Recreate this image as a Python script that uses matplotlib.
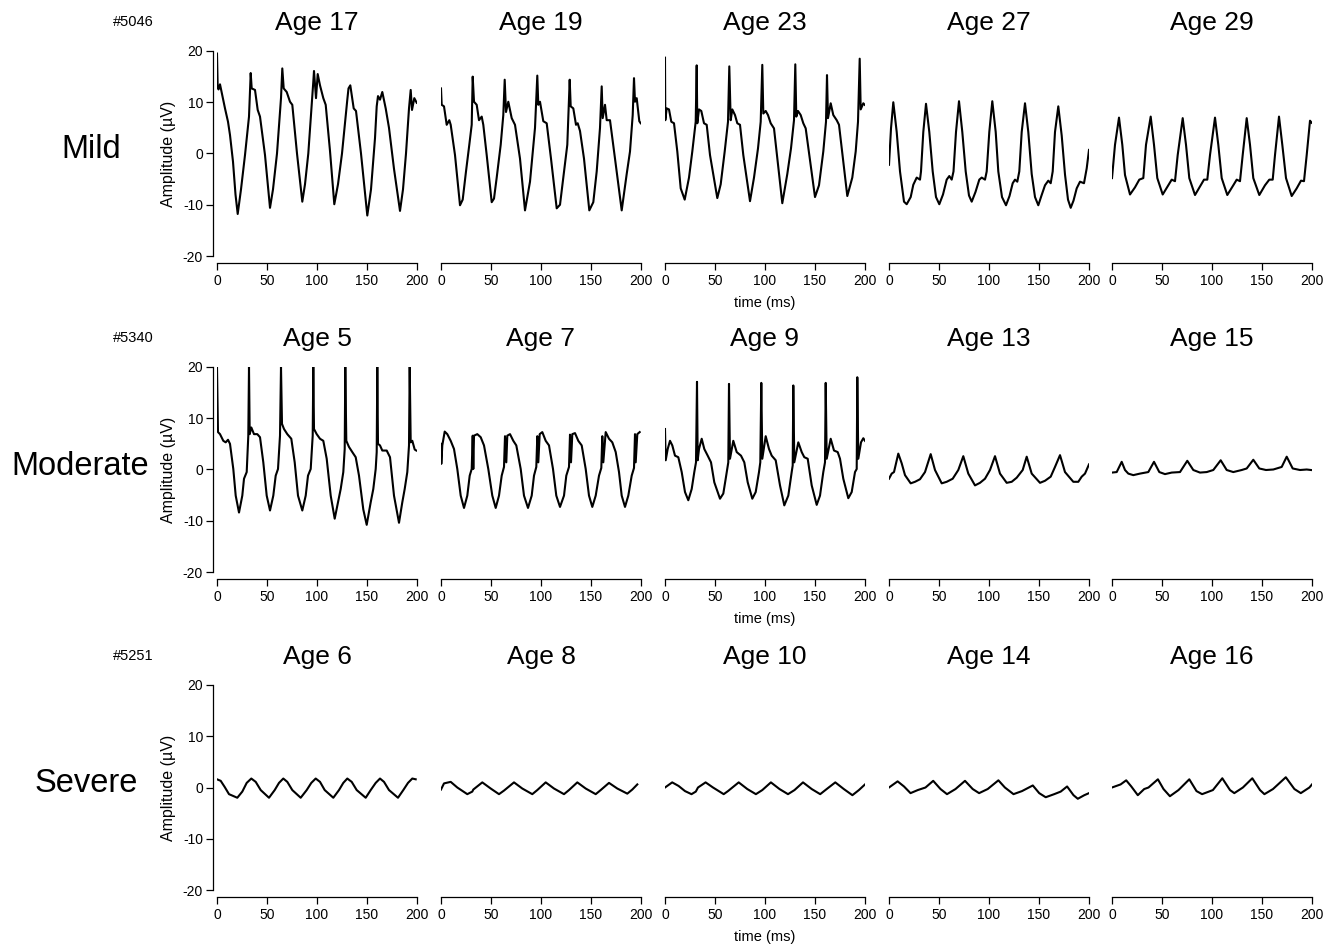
import matplotlib
matplotlib.use("Agg")
import matplotlib.pyplot as plt

plt.rcParams['font.family'] = ['Liberation Sans', 'DejaVu Sans']
plt.rcParams['axes.unicode_minus'] = False

# ---- data (time in ms, amplitude in uV) ----
# Mild, #5046
m17_t = [0, 0.7, 1.5, 3, 8, 11, 13, 16, 18.5, 20.7, 24, 28, 32, 33.7, 34.7, 38, 40.7, 43, 48, 53, 56, 60, 64, 65.3, 66.7, 69.7, 73, 75.3, 80, 85.3, 88, 91.3, 96.3, 97, 99, 100.7, 103, 106.3, 108.7, 113, 117.3, 121, 125, 130.3, 131.5, 133.3, 136.7, 139, 144, 150.3, 154, 158, 159.7, 161, 163, 165.3, 168.7, 172, 177, 183, 186, 189, 192, 193.7, 195, 197.3, 199.7]
m17_v = [19.5, 13, 12.5, 13.5, 8.8, 6.2, 3.6, -1.6, -8, -11.8, -7, -0.3, 7.2, 15.7, 12.7, 12.4, 8.5, 7.2, -0.3, -10.6, -7, 0, 10.8, 16.6, 12.7, 12, 10.1, 9.5, 0, -9.4, -6, 0, 14, 16.1, 10.8, 15.5, 13.3, 10.8, 9.5, 0.5, -9.9, -6, 0, 10.5, 12.7, 13.3, 8.8, 8.3, 0, -12.1, -7, 3, 9.2, 11.2, 10.5, 12, 8.8, 5, -3, -11.2, -7, 0, 8.8, 12.4, 8.5, 10.8, 9.9]

m19_t = [0, 0.7, 3, 5.7, 8.3, 9.7, 14, 19, 21.7, 25, 28.3, 30.7, 31.7, 33, 35.7, 38, 40.7, 42.3, 45.7, 50.7, 53, 55.7, 59.7, 62.3, 63.7, 65, 67.3, 70.7, 74, 79, 84, 89, 94, 96.3, 97.3, 99, 102.3, 105.7, 110, 115.7, 119, 122.3, 126.3, 128.7, 129.7, 132.3, 135, 136.7, 139, 143, 148.3, 152.3, 155.7, 159, 160.7, 161.7, 164, 165.7, 169, 174, 180.7, 185.7, 189, 191.7, 193, 194, 195.7, 198.3, 199.7]
m19_v = [12.7, 9.5, 9.2, 5.6, 6.5, 5.6, -0.3, -10.1, -9, -3.5, 1.7, 5.6, 15, 10.1, 9.5, 6.5, 7.2, 5.6, -0.3, -9.5, -8.8, -4.7, 1.7, 7.5, 14.4, 8.1, 10.1, 6.9, 5.6, -1, -11.1, -5.5, 5, 15.2, 9.5, 10.1, 6.3, 5.9, -1, -10.7, -10, -4.7, 1.7, 14.4, 9.2, 8.8, 5.6, 5.9, 4.4, -1, -11.1, -9.5, -3.5, 5, 13.1, 6.9, 9.5, 6.5, 6.5, -1, -11.1, -4, 0.4, 7.5, 14.7, 10.1, 10.8, 6.3, 5.9]

m23_t = [0, 0.3, 1.7, 4, 6.3, 9, 12.3, 15.7, 19.7, 24, 27.3, 30.7, 31.7, 32.3, 34, 36.3, 39, 41.7, 45, 52.3, 55.7, 59.7, 63, 64.3, 65.7, 67.3, 70, 72.3, 75, 78.3, 85, 89, 93, 95.7, 97.3, 98.3, 100.7, 103, 105.7, 109, 117.3, 122.3, 126, 129, 130.3, 131.3, 133, 135.7, 138.3, 140.7, 150, 154, 158.3, 161, 162, 163, 165.7, 168.3, 171.7, 174, 182.3, 187.3, 190.7, 193, 194.7, 195.7, 198.3, 199.7]
m23_v = [18.7, 6.5, 8.8, 8.6, 6.2, 5.9, 0.4, -6.8, -9, -4.7, 0.4, 6.2, 17.2, 5.9, 8.6, 8.3, 5.9, 5.6, -0.3, -8.7, -6, 0.4, 6.2, 17, 6.5, 8.6, 7.5, 5.9, 5.6, -0.3, -9.3, -4.7, 1, 6.2, 17.3, 7.8, 8.3, 7.5, 5.9, 4.9, -9.7, -4, 1, 6.5, 17.4, 7.2, 8.3, 7.5, 5.9, 4.9, -8.5, -6.2, 0.4, 6.2, 15.3, 6.9, 9.8, 7.5, 6.5, 5.6, -8.3, -4.7, 0.4, 6.2, 18.5, 8.6, 9.8, 9.5]

m27_t = [0, 2, 4.3, 7.7, 11, 15, 17.7, 21.7, 24.3, 27.7, 31, 32, 34.3, 37, 40.3, 43.7, 47, 50.3, 54, 57.7, 60.3, 62.7, 64.5, 67, 70, 73.3, 76.7, 80, 82.7, 86.5, 90.3, 92.7, 96, 97.7, 100.3, 103.3, 106.7, 109.3, 113, 117, 120.5, 123.7, 126, 128.3, 130.3, 132.7, 136, 139.3, 142.7, 146, 149.3, 152.5, 156, 159.3, 161.7, 163.7, 166, 169.3, 172.7, 176, 179, 181.7, 184.5, 187.7, 191, 195, 197.7, 200]
m27_v = [-2.2, 4.9, 10, 4.2, -3.5, -9.4, -9.9, -8.5, -6.1, -4.7, -5.1, -3.5, 4.2, 9.7, 4.2, -3.5, -8.5, -9.9, -8, -5.1, -4.4, -5.1, -3.5, 4.2, 10.2, 4.2, -3.5, -8.2, -9.4, -7.5, -5.1, -4.7, -5.1, -3.5, 4.2, 10.2, 4.2, -3.5, -8.5, -10.1, -8.3, -5.8, -5.1, -5.5, -3.5, 4.2, 9.8, 4.2, -4, -8.5, -10.1, -8.2, -6.2, -5.3, -5.8, -3.5, 4.2, 9.2, 3.5, -4.1, -9, -10.6, -9.2, -6.8, -5.5, -5.8, -2.9, 0.7]

m29_t = [0, 3, 7, 10.3, 13, 18, 23, 27.3, 31.3, 34, 38.7, 42, 45.3, 50.7, 56.3, 59.7, 63, 65.7, 70.7, 74, 77.3, 83, 88.7, 92, 95.3, 98, 103, 106.3, 109.7, 115.3, 121.3, 124.7, 128, 130.7, 134.7, 138, 141.3, 147.3, 153, 157.3, 160.7, 163, 167, 170.3, 174, 179.7, 184.7, 189, 192, 194.7, 198, 199.7]
m29_v = [-4.8, 1.7, 7, 1.7, -4.2, -8, -6.6, -5.1, -4.8, 1.7, 7.2, 1.7, -4.8, -8, -6.2, -5.1, -5.4, -0.3, 6.9, 1.7, -4.8, -8.1, -6.2, -5.1, -5.1, -0.3, 7, 1.7, -4.8, -8.1, -6.2, -5.1, -5.4, -0.3, 6.9, 1.7, -4.8, -8.1, -6.2, -5.1, -5.1, -0.3, 7.2, 1.7, -4.8, -8.3, -6.8, -5.3, -5.4, -0.3, 6.4, 6]

# Moderate, #5340
d5_t = [0, 1, 3, 6.3, 8.7, 11, 13, 16.3, 18.7, 22, 25.3, 27, 29.7, 31.3, 32, 32.7, 34.3, 37, 40.3, 43, 46.3, 49.7, 53, 56.3, 58.7, 61, 63, 64, 65, 67, 70.3, 74.3, 77.7, 81, 85.3, 88.7, 91, 93.7, 95.7, 96.3, 97, 99.7, 103, 106.3, 109.7, 113.7, 117.7, 121, 123.7, 126.3, 127.7, 128.3, 129.3, 132, 135.3, 138.7, 142, 146.3, 149.7, 153.7, 156.3, 158.7, 159.7, 160.3, 161, 163, 165.3, 169.7, 173, 177, 182, 185.3, 187.7, 190.3, 192, 192.7, 193.7, 195.3, 197.7, 199.3]
d5_v = [20, 7.3, 6.9, 5.6, 5.3, 5.8, 5, 0.1, -5.1, -8.4, -5.1, -1.8, -0.5, 6.6, 20, 6.9, 8.2, 6.9, 6.9, 6.3, 1.4, -5.1, -8, -5.1, -1.2, 0.1, 6.6, 20, 8.9, 7.9, 6.9, 6, 1.4, -5.1, -8, -5.1, -1.2, 0.1, 6.6, 20, 7.9, 6.9, 6, 5.6, 2.1, -5.1, -9.6, -6.4, -3.8, -0.5, 4, 20, 5.6, 4.4, 3.4, 2.4, -1.2, -7.8, -10.8, -6.4, -3.8, 0.1, 3.4, 20, 5, 4.7, 3.7, 3.7, 2.4, -5.1, -10.4, -6.4, -3.8, -0.5, 4.7, 20, 5.3, 5.6, 3.9, 3.7]

d7_t = [0, 0.3, 1.3, 3.7, 6.3, 9.7, 13, 16.3, 19.7, 23, 26.3, 28.7, 30.7, 31.7, 32.3, 33, 36.3, 39.7, 43, 47.3, 51.3, 54.7, 58, 60.7, 63, 64, 65.3, 66.3, 69, 72.3, 75.3, 79.7, 83, 87, 90.7, 93, 95.3, 96.3, 97.3, 98.7, 101.3, 104.7, 108, 112, 115.3, 119, 123, 125.3, 128, 129, 130, 131.3, 134, 137.3, 140.7, 144.7, 148, 151.3, 154.7, 158, 160.3, 161.3, 162.3, 164.7, 168, 171.3, 174.7, 178, 180.7, 184, 187.3, 190.7, 193, 194, 194.7, 196.3, 198.7]
d7_v = [5, 1.1, 4.7, 7.4, 6.9, 5.6, 4, 0.1, -5.1, -7.5, -5.1, -1.2, 0.1, 6.6, 0.1, 6.6, 6.9, 6.3, 4.7, 0.1, -5.1, -7.5, -5.1, -1.2, 0.5, 6.5, 1.4, 6.6, 6.9, 5.6, 4.7, 0.1, -5.1, -7.5, -5.1, -1.2, 0.5, 6.5, 1.4, 6.9, 7.3, 5.6, 4.7, 0.1, -5.1, -7.3, -5.1, -1.2, 0.5, 6.8, 1.4, 6.9, 7.1, 5.6, 4.7, 0.1, -5.1, -7.3, -5.1, -1.2, 0.3, 6.5, 1.4, 7.3, 6, 5.3, 3.4, -0.5, -5.1, -7.3, -5.1, -1.2, 0.3, 6.9, 1.4, 6.9, 7.3]

d9_t = [0, 0.7, 2.7, 5, 7.3, 10, 13.3, 16.7, 20, 23.3, 26.7, 29.3, 31, 32, 32.7, 34, 36.7, 39.3, 42.7, 46, 49.3, 55, 58.3, 60.7, 63.3, 64, 65, 68.3, 71.7, 76, 79.3, 82.7, 87.3, 90.7, 94, 95.3, 96.3, 97.3, 100.7, 104, 106.7, 110.7, 115, 119.3, 123.3, 126.7, 127.7, 128.3, 129.3, 133.3, 136.7, 139.3, 142.7, 146.7, 151.7, 155, 158.3, 160, 160.7, 161.7, 165.7, 169, 172.7, 175, 178.3, 183.3, 186.7, 190, 191.7, 192.3, 193.3, 196, 198.3, 200]
d9_v = [7.9, 1.8, 4, 5.6, 4.7, 2.7, 2.4, -0.5, -4.4, -6, -3.8, -0.5, 1.4, 17.1, 1.8, 4, 6, 4, 2.7, 1.4, -2.5, -5.7, -4.7, -1.8, 1.4, 16.7, 2.1, 5.6, 3.4, 2.7, 1.4, -2.5, -5.7, -4.4, -0.5, 1.4, 16.9, 2.1, 6.5, 4, 2.7, 1.8, -3.1, -7, -5.1, -0.5, 0.8, 16.4, 1.4, 5.3, 3.4, 2.4, 2.1, -3.1, -6.9, -5.1, -0.5, 1.4, 16.9, 2.1, 6, 3.7, 3.4, 2.1, -1.8, -5.6, -4.4, -0.5, 0.1, 18, 2.1, 5.3, 6.1, 5.6]

d13_t = [0, 2.7, 5, 9.3, 12.7, 16, 21.7, 26, 31, 36, 41.7, 46, 52.7, 57.7, 63.7, 69.3, 74.3, 79.3, 86, 91, 96, 101, 106, 111, 117.7, 122.7, 127.7, 133.7, 137.7, 142.7, 151, 156, 161.7, 166, 171, 176, 184.3, 189.3, 192.7, 196, 200]
d13_v = [-1.8, -0.8, -0.5, 3.1, 1.2, -1.1, -2.7, -2.4, -1.9, -0.5, 3, -0.1, -2.7, -2.4, -1.8, -0.1, 2.6, -0.8, -3.1, -2.6, -1.8, -0.1, 2.6, -0.8, -2.6, -2.4, -1.6, -0.1, 2.5, -0.8, -2.6, -2.2, -1.4, 0.5, 2.8, -0.5, -2.4, -2.4, -1.4, -0.8, 1]

d15_t = [0, 4.7, 9.7, 13, 16.3, 21.3, 28, 36.3, 42, 47.3, 53, 59.7, 68, 75.3, 81.3, 88, 94.7, 101.3, 108.7, 114.7, 121.3, 129.7, 134.7, 141.3, 147.3, 154, 161.3, 169.7, 174.7, 180.7, 188, 194.7, 199]
d15_v = [-0.6, -0.5, 1.5, -0.1, -0.8, -1.1, -0.8, -0.5, 1.5, -0.5, -0.9, -0.6, -0.5, 1.7, -0.1, -0.6, -0.5, -0.1, 1.8, -0.1, -0.5, -0.1, 0.2, 1.9, 0.2, -0.1, 0, 0.5, 2.5, 0.2, -0.1, 0, -0.1]

# Severe, #5251
s6_t = [0, 3.7, 7.7, 12, 20.3, 25.3, 29.7, 34.3, 38.7, 43.7, 52, 57.7, 62, 66.3, 70.3, 75.3, 83.7, 89.7, 94.3, 98.7, 103, 107.7, 116.3, 122, 126.3, 130.3, 134.7, 139.7, 148.7, 153.7, 158.7, 163, 167, 172, 181, 186.3, 191, 195.3, 198.7]
s6_v = [1.6, 1.3, 0.1, -1.3, -2, -0.8, 0.9, 1.75, 1.1, -0.5, -2, -0.5, 0.9, 1.75, 1.1, -0.5, -2, -0.5, 0.9, 1.75, 1.1, -0.5, -2, -0.5, 0.9, 1.75, 1.1, -0.5, -2, -0.5, 0.9, 1.75, 1.1, -0.5, -2, -0.5, 0.9, 1.75, 1.6]

s8_t = [0, 3, 9.7, 16.3, 26.3, 31.3, 32.3, 41.3, 49.7, 58, 63, 73, 81.3, 91.3, 96.3, 104.7, 113, 123, 128, 136.3, 144.7, 154.7, 159.7, 168, 176.3, 186.3, 191.3, 196.3]
s8_v = [-0.4, 0.8, 1.1, 0, -1.3, -0.8, -0.4, 1, -0.2, -1.3, -0.6, 1, -0.2, -1.3, -0.5, 1, -0.2, -1.3, -0.5, 1, -0.2, -1.3, -0.5, 0.9, -0.2, -1.2, -0.4, 0.6]

s10_t = [0, 7.2, 13.6, 20, 26.5, 30.8, 33, 40.6, 48, 58.7, 63, 73.7, 82.3, 90.9, 97.3, 105.9, 114.5, 123, 129.5, 138, 146.7, 155.2, 161.7, 170.3, 178.8, 187.4, 193.9, 200]
s10_v = [0, 1, 0.3, -0.7, -1.3, -0.8, 0, 1, 0, -1.3, -0.7, 1, -0.3, -1.3, -0.5, 1, -0.3, -1.3, -0.5, 1, -0.3, -1.3, -0.3, 1, -0.3, -1.5, -0.5, 0.6]

s14_t = [0, 8.6, 15, 21.5, 28.8, 36.5, 44.2, 51.5, 58, 66.5, 76, 83.7, 90.1, 98.7, 109.4, 115.9, 124.5, 133, 143.8, 150.2, 156.7, 165.2, 171.7, 178.1, 184.5, 188.8, 195.3, 200]
s14_v = [0, 1.2, 0.2, -1.1, -0.5, 0, 1.3, -0.3, -1.3, -0.3, 1.3, -0.3, -1.1, -0.3, 1.4, 0, -1.3, -0.7, 0.4, -1.1, -1.9, -1.3, -0.8, 0.2, -1.5, -2.2, -1.5, -1.1]

s16_t = [0, 8.6, 14.2, 19.3, 25.8, 32.2, 36.5, 45.9, 51.5, 57.9, 66.5, 77.3, 84.5, 90.1, 100.9, 110.3, 118, 122.3, 130.9, 140.3, 148, 152.4, 161, 173.8, 182.4, 188.8, 197.4, 200]
s16_v = [0, 0.6, 1.4, 0.2, -1.5, -0.3, 0, 1.6, -0.3, -1.7, -0.5, 1.6, -0.7, -1.3, -0.5, 1.8, -0.5, -1.1, 0, 1.8, -0.5, -1.3, -0.3, 2, -0.3, -1.1, 0, 0.6]

row_names = ['Mild', 'Moderate', 'Severe']
row_ids = ['#5046', '#5340', '#5251']
ages = [['Age 17', 'Age 19', 'Age 23', 'Age 27', 'Age 29'],
        ['Age 5', 'Age 7', 'Age 9', 'Age 13', 'Age 15'],
        ['Age 6', 'Age 8', 'Age 10', 'Age 14', 'Age 16']]
traces = [[(m17_t, m17_v), (m19_t, m19_v), (m23_t, m23_v), (m27_t, m27_v), (m29_t, m29_v)],
          [(d5_t, d5_v), (d7_t, d7_v), (d9_t, d9_v), (d13_t, d13_v), (d15_t, d15_v)],
          [(s6_t, s6_v), (s8_t, s8_v), (s10_t, s10_v), (s14_t, s14_v), (s16_t, s16_v)]]

# ---- layout (pixels) ----
W, H = 1340, 946
col_x0 = [217, 441, 665, 889, 1112]
row_top = [51, 367, 685]
row_name_x = [91, 80, 86]
pw, ph = 200, 205

fig = plt.figure(figsize=(W / 100, H / 100), dpi=100)

for r in range(3):
    for c in range(5):
        ax = fig.add_axes([col_x0[c] / W, 1 - (row_top[r] + ph) / H, pw / W, ph / H])
        t, v = traces[r][c]
        ax.plot(t, v, color='black', lw=1.5, solid_joinstyle='round')
        ax.set_xlim(0, 200)
        ax.set_ylim(-20, 20)
        ax.patch.set_alpha(0)
        for s in ['top', 'right']:
            ax.spines[s].set_visible(False)
        ax.spines['bottom'].set_position(('outward', 5))
        ax.spines['bottom'].set_linewidth(0.9)
        ax.set_xticks([0, 50, 100, 150, 200])
        ax.tick_params(axis='x', direction='out', length=5, width=0.9, labelsize=10, pad=3)
        if c == 0:
            ax.spines['left'].set_position(('outward', 3))
            ax.spines['left'].set_linewidth(0.9)
            ax.set_yticks([-20, -10, 0, 10, 20])
            ax.tick_params(axis='y', direction='out', length=5, width=0.9, labelsize=10, pad=2)
        else:
            ax.spines['left'].set_visible(False)
            ax.set_yticks([])

        fig.text((col_x0[c] + 100) / W, 1 - (row_top[r] - 28) / H, ages[r][c],
                 ha='center', va='center', fontsize=19)

    fig.text(133 / W, 1 - (row_top[r] - 29) / H, row_ids[r], ha='center', va='center', fontsize=10.5)
    fig.text(row_name_x[r] / W, 1 - (row_top[r] + 99) / H, row_names[r], ha='center', va='center', fontsize=23.5)
    fig.text(168 / W, 1 - (row_top[r] + 103) / H, 'Amplitude (µV)', rotation=90,
             ha='center', va='center', fontsize=11.5)
    fig.text(765 / W, 1 - (row_top[r] + 252) / H, 'time (ms)', ha='center', va='center', fontsize=10.5)

fig.savefig('out.png', dpi=100)
